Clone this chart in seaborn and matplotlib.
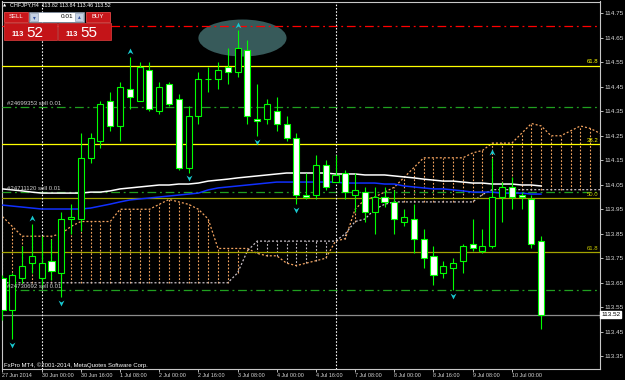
import numpy as np
import pandas as pd
import matplotlib
matplotlib.use("Agg")
import matplotlib.pyplot as plt
from matplotlib import font_manager as fm
from matplotlib.patches import Rectangle, Ellipse
from matplotlib.path import Path
import matplotlib.transforms as mtransforms
import seaborn as sns

# ------------------------------------------------------------------ data
symbol = "CHFJPY,H4"
opens = [113.67, 113.54, 113.67, 113.73, 113.67, 113.74, 113.69, 113.91, 113.91, 114.16,
         114.23, 114.39, 114.29, 114.44, 114.39, 114.52, 114.35, 114.46, 114.40, 114.12,
         114.33, 114.48, 114.48, 114.53, 114.51, 114.60, 114.32, 114.32, 114.35, 114.30,
         114.24, 114.01, 114.01, 114.13, 114.06, 114.10, 114.01, 114.02, 113.94, 114.00,
         113.98, 113.90, 113.91, 113.83, 113.76, 113.69, 113.71, 113.74, 113.81, 113.78,
         113.80, 114.00, 114.04, 114.01, 113.99, 113.82]
highs = [113.68, 113.69, 113.80, 113.89, 113.84, 113.83, 113.94, 113.97, 114.26, 114.26,
         114.39, 114.43, 114.47, 114.57, 114.55, 114.55, 114.47, 114.47, 114.42, 114.37,
         114.51, 114.53, 114.55, 114.61, 114.68, 114.64, 114.46, 114.40, 114.41, 114.33,
         114.26, 114.10, 114.17, 114.15, 114.17, 114.11, 114.10, 114.04, 114.04, 114.04,
         114.03, 113.95, 113.97, 113.87, 113.80, 113.74, 113.75, 113.81, 113.91, 113.87,
         114.16, 114.06, 114.08, 114.02, 114.01, 113.84]
lows = [113.50, 113.42, 113.65, 113.69, 113.63, 113.66, 113.59, 113.85, 113.86, 114.14,
        114.20, 114.27, 114.23, 114.36, 114.39, 114.35, 114.34, 114.37, 114.11, 114.10,
        114.30, 114.43, 114.44, 114.46, 114.49, 114.30, 114.25, 114.30, 114.27, 114.23,
        113.97, 113.99, 113.99, 114.03, 114.06, 113.99, 113.94, 113.90, 113.85, 113.96,
        113.85, 113.88, 113.77, 113.71, 113.64, 113.67, 113.62, 113.69, 113.78, 113.77,
        113.79, 113.90, 113.95, 113.95, 113.79, 113.46]
closes = [113.54, 113.68, 113.72, 113.76, 113.73, 113.70, 113.91, 113.92, 114.16, 114.24,
          114.38, 114.29, 114.45, 114.41, 114.53, 114.36, 114.45, 114.38, 114.12, 114.33,
          114.48, 114.48, 114.52, 114.51, 114.61, 114.33, 114.31, 114.38, 114.30, 114.24,
          114.01, 114.00, 114.13, 114.04, 114.09, 114.02, 114.03, 113.94, 114.00, 113.98,
          113.91, 113.92, 113.83, 113.75, 113.68, 113.72, 113.73, 113.80, 113.79, 113.80,
          114.00, 114.04, 114.00, 114.00, 113.81, 113.52]
ask_price = 113.55

# Ichimoku cloud (shifted forward, so longer than the price series)
senkou_a = [113.92, 113.88, 113.84, 113.84, 113.84, 113.84, 113.85, 113.88, 113.90, 113.90,
            113.90, 113.90, 113.95, 113.95, 113.95, 113.95, 113.97, 113.99, 113.98, 113.97,
            113.95, 113.91, 113.79, 113.79, 113.79, 113.79, 113.77, 113.76, 113.76, 113.73,
            113.72, 113.73, 113.74, 113.75, 113.82, 113.83, 113.95, 113.99, 114.00, 114.02,
            114.04, 114.08, 114.12, 114.16, 114.16, 114.16, 114.16, 114.16, 114.18, 114.19,
            114.22, 114.22, 114.22, 114.26, 114.30, 114.29, 114.25, 114.25, 114.27, 114.29,
            114.28, 114.26]
senkou_b = [113.65, 113.65, 113.65, 113.65, 113.65, 113.65, 113.65, 113.65, 113.65, 113.65,
            113.65, 113.65, 113.65, 113.65, 113.65, 113.65, 113.65, 113.65, 113.65, 113.65,
            113.65, 113.65, 113.65, 113.65, 113.69, 113.78, 113.82, 113.82, 113.82, 113.82,
            113.82, 113.82, 113.82, 113.82, 113.82, 113.85, 113.90, 113.91, 113.95, 113.97,
            113.98, 113.98, 113.98, 113.98, 113.98, 113.98, 113.98, 113.98, 113.98, 114.01,
            114.03, 114.03, 114.03, 114.03, 114.03, 114.03, 114.03, 114.03, 114.03, 114.03,
            114.03, 114.03]

# moving averages
ma_white = [114.033, 114.029, 114.025, 114.020, 114.016, 114.016, 114.016, 114.016, 114.016, 114.020,
            114.020, 114.025, 114.033, 114.037, 114.041, 114.045, 114.049, 114.049, 114.053, 114.053,
            114.057, 114.065, 114.069, 114.073, 114.078, 114.082, 114.086, 114.090, 114.094, 114.098,
            114.098, 114.098, 114.098, 114.098, 114.094, 114.094, 114.094, 114.090, 114.090, 114.090,
            114.086, 114.082, 114.078, 114.073, 114.069, 114.065, 114.065, 114.061, 114.057, 114.057,
            114.053, 114.053, 114.053, 114.049, 114.049, 114.045]
ma_blue = [113.967, 113.963, 113.959, 113.955, 113.951, 113.951, 113.951, 113.951, 113.951, 113.955,
           113.963, 113.971, 113.980, 113.988, 113.992, 113.996, 114.000, 114.004, 114.008, 114.012,
           114.016, 114.029, 114.037, 114.041, 114.045, 114.049, 114.053, 114.057, 114.061, 114.061,
           114.061, 114.061, 114.061, 114.061, 114.061, 114.057, 114.057, 114.057, 114.057, 114.053,
           114.053, 114.045, 114.041, 114.037, 114.033, 114.033, 114.029, 114.025, 114.020, 114.020,
           114.020, 114.016, 114.016, 114.016, 114.012, 114.012]

# horizontal objects
alert_level = 114.70
fib_levels = [114.535, 114.216, 113.996, 113.775]
fib_labels = ["61.8", "38.2", "50.0", "61.8"]
fib_colors = ["#ffff00", "#ffff00", "#a4a400", "#a4a400"]
order_levels = [114.367, 114.020, 113.620]
order_labels = ["#24699353 sell 0.01", "#24711120 sell 0.01", "#24730692 sell 0.01"]

# fractals & separators (bar indices)
up_fractals = [3, 13, 24, 50]
down_fractals = [1, 6, 19, 26, 30, 46]
week_separators = [4, 34]

# axis labels
price_ticks = [114.75, 114.65, 114.55, 114.45, 114.35, 114.25, 114.15, 114.05,
               113.95, 113.85, 113.75, 113.65, 113.55, 113.45, 113.35]
time_tick_bars = [0, 4, 8, 12, 16, 20, 24, 28, 32, 36, 40, 44, 48, 52]
time_tick_labels = ["27 Jun 2014", "30 Jun 00:00", "30 Jun 16:00", "1 Jul 08:00",
                    "2 Jul 00:00", "2 Jul 16:00", "3 Jul 08:00", "4 Jul 00:00",
                    "4 Jul 16:00", "7 Jul 08:00", "8 Jul 00:00", "8 Jul 16:00",
                    "9 Jul 08:00", "10 Jul 00:00"]

# ellipse object (bar index, price, width in bars, height in price)
ellipse_obj = (24.5, 114.649, 9.0, 0.151)

# ------------------------------------------------------------------ style
sns.set_theme(style="dark", rc={"axes.facecolor": "black", "figure.facecolor": "black",
                                "axes.edgecolor": "#c8c8c8", "axes.grid": False,
                                "xtick.color": "#d8d8d8", "ytick.color": "#d8d8d8",
                                "text.color": "white"})
avail = {f.name for f in fm.fontManager.ttflist}
FONT = "DejaVu Sans"
for cand in ["Liberation Sans Narrow", "Liberation Sans", "Roboto", "DejaVu Sans"]:
    if cand in avail:
        FONT = cand
        break
plt.rcParams["font.family"] = [FONT, "DejaVu Sans"]

W, H = 625, 380
fig = plt.figure(figsize=(W / 100, H / 100), dpi=100)
fig.patch.set_facecolor("black")
ax = fig.add_axes([2 / W, 1 - 369 / H, 598 / W, 367.5 / H])
ax.set_facecolor("black")

LIME = "#00ff00"
n = len(opens)
bars = np.arange(n)
o = np.array(opens); c = np.array(closes); h = np.array(highs); l = np.array(lows)

# ---- ellipse (background object)
ax.add_patch(Ellipse((ellipse_obj[0], ellipse_obj[1]), ellipse_obj[2], ellipse_obj[3],
                     facecolor="#375a5a", edgecolor="none", zorder=1))

# ---- Ichimoku cloud
cx = np.arange(len(senkou_a))
sa = np.array(senkou_a); sb = np.array(senkou_b)
up = sa >= sb
ax.vlines(cx[up], sb[up], sa[up], colors="#f4a460", linestyles=(0, (1.6, 1.6)), lw=0.8, zorder=2)
ax.vlines(cx[~up], sa[~up], sb[~up], colors="#c8c0c8", linestyles=(0, (1.6, 1.6)), lw=0.8, zorder=2)
cloud = pd.DataFrame({"bar": cx, "a": sa, "b": sb})
sns.lineplot(data=cloud, x="bar", y="a", ax=ax, color="#f4a460", lw=0.9, linestyle=(0, (1.6, 1.6)), zorder=2)
sns.lineplot(data=cloud, x="bar", y="b", ax=ax, color="#c8c0c8", lw=0.9, linestyle=(0, (1.6, 1.6)), zorder=2)

# ---- horizontal objects
blend = mtransforms.blended_transform_factory(ax.transAxes, ax.transData)
for lev, col in zip(fib_levels, fib_colors):
    ax.axhline(lev, color=col, lw=0.9, zorder=3)
for lev, lab, col in zip(fib_levels, fib_labels, fib_colors):
    ax.text(0.997, lev + 0.006, lab, transform=blend,
            ha="right", va="bottom", fontsize=4.3, color="#ffff00" if col == "#ffff00" else "#c8c800", zorder=9)
for lev in order_levels:
    ax.axhline(lev, color="#20a020", lw=0.9, linestyle=(0, (7, 3, 1.5, 3)), zorder=3)
for lev, lab in zip(order_levels, order_labels):
    ax.text(0.0085, lev + 0.006, lab, transform=blend,
            ha="left", va="bottom", fontsize=4.3, color="#d0d0d0", zorder=9)
ax.axhline(alert_level, color="#ff0000", lw=0.9, linestyle=(0, (7, 3, 1.5, 3)), zorder=3)
ax.axhline(closes[-1], color="#8c8c8c", lw=0.9, zorder=3)

# ---- week separators
for b in week_separators:
    ax.axvline(b, color="white", lw=0.8, linestyle=(0, (1.4, 1.6)), zorder=3)

# ---- moving averages
mas = pd.DataFrame({"bar": bars, "white": ma_white, "blue": ma_blue})
sns.lineplot(data=mas, x="bar", y="white", ax=ax, color="white", lw=1.1, zorder=4)
sns.lineplot(data=mas, x="bar", y="blue", ax=ax, color="#1030ff", lw=1.1, zorder=4)

# ---- candles
bull = c >= o
lo_b = np.minimum(o, c); hi_b = np.maximum(o, c)
hgt = np.maximum(hi_b - lo_b, 0.003)
ax.vlines(bars, l, h, colors=LIME, lw=0.8, zorder=5)
ax.bar(bars, hgt, bottom=lo_b, width=0.62, color=np.where(bull, "black", "white"),
       edgecolor=LIME, linewidth=0.8, zorder=6)

# ---- fractal arrows
up_marker = Path([(0, 1), (1, -1), (0, -0.35), (-1, -1), (0, 1)],
                 [Path.MOVETO, Path.LINETO, Path.LINETO, Path.LINETO, Path.CLOSEPOLY])
dn_marker = Path([(0, -1), (1, 1), (0, 0.35), (-1, 1), (0, -1)],
                 [Path.MOVETO, Path.LINETO, Path.LINETO, Path.LINETO, Path.CLOSEPOLY])
ax.scatter(up_fractals, [highs[i] + 0.024 for i in up_fractals], marker=up_marker, s=18,
           color="#18c8d0", linewidths=0, zorder=7)
ax.scatter(down_fractals, [lows[i] - 0.024 for i in down_fractals], marker=dn_marker, s=18,
           color="#18c8d0", linewidths=0, zorder=7)

# ---- axes
ax.set_xlim(-0.05, 61.0)
ax.set_ylim(113.298, 114.798)
ax.set_xlabel(""); ax.set_ylabel("")
ax.yaxis.tick_right()
ax.set_yticks(price_ticks)
ax.set_yticklabels([f"{p:.2f}" for p in price_ticks], fontsize=4.6, color="#d8d8d8")
ax.set_xticks(time_tick_bars)
ax.set_xticklabels(time_tick_labels, fontsize=3.9, color="#d8d8d8", ha="left")
ax.tick_params(axis="y", which="both", right=True, left=False, length=2.2, width=0.6, pad=0.8, colors="#d8d8d8")
ax.tick_params(axis="x", which="both", bottom=True, length=2.2, width=0.6, pad=0.8, colors="#d8d8d8")
for s in ax.spines.values():
    s.set_color("#c8c8c8"); s.set_linewidth(0.8)

# price label box on the right axis
ax.text(1.002, closes[-1], f"{closes[-1]:.2f}", transform=blend,
        ha="left", va="center", fontsize=4.6, color="black", zorder=12, clip_on=False,
        bbox=dict(boxstyle="square,pad=0.15", fc="white", ec="white"))

# ------------------------------------------------------------------ overlay (panel, header, copyright)
ov = fig.add_axes([0, 0, 1, 1], zorder=10)
ov.set_xlim(0, W); ov.set_ylim(H, 0); ov.axis("off"); ov.patch.set_alpha(0)

ov.text(2.5, 5.2, "\u25b2", fontsize=3, color="white", va="center", ha="left", family="DejaVu Sans")
ov.text(10, 5.2, f"{symbol}  {opens[-1]:.2f} {highs[-1]:.2f} {lows[-1]:.2f} {closes[-1]:.2f}",
        fontsize=3.9, color="white", va="center", ha="left")

RED = "#c8171b"; RED_E = "#ff5050"
ov.add_patch(Rectangle((4, 12), 24, 10, fc=RED, ec=RED_E, lw=0.5))
ov.text(16, 17, "SELL", fontsize=4.3, color="white", ha="center", va="center")
ov.add_patch(Rectangle((29, 12), 55, 10, fc="white", ec="#7a8aa0", lw=0.5))
ov.add_patch(Rectangle((30, 13), 8, 8, fc="#c6d2e4", ec="#8090a8", lw=0.4))
ov.add_patch(Rectangle((75, 13), 8, 8, fc="#c6d2e4", ec="#8090a8", lw=0.4))
ov.text(34, 17.3, "\u25be", fontsize=4, color="#3050a0", ha="center", va="center", family="DejaVu Sans")
ov.text(79, 16.7, "\u25b4", fontsize=4, color="#3050a0", ha="center", va="center", family="DejaVu Sans")
ov.text(73, 17, "0.01", fontsize=4.6, color="black", ha="right", va="center")
ov.add_patch(Rectangle((86, 12), 24, 10, fc=RED, ec=RED_E, lw=0.5))
ov.text(98, 17, "BUY", fontsize=4.3, color="white", ha="center", va="center")
ov.add_patch(Rectangle((4, 22.5), 53, 17.5, fc="#c41418", ec="#e04040", lw=0.5))
ov.add_patch(Rectangle((58, 22.5), 53, 17.5, fc="#c41418", ec="#e04040", lw=0.5))
bid_str = f"{closes[-1]:.2f}"; ask_str = f"{ask_price:.2f}"
ov.text(12, 36.5, bid_str[:3], fontsize=5.5, color="white", ha="left", va="baseline", weight="bold")
ov.text(26.5, 37, bid_str[4:], fontsize=11, color="white", ha="left", va="baseline")
ov.text(66, 36.5, ask_str[:3], fontsize=5.5, color="white", ha="left", va="baseline", weight="bold")
ov.text(80.5, 37, ask_str[4:], fontsize=11, color="white", ha="left", va="baseline")

ov.text(4, 365, "FxPro MT4, \u00a92001-2014, MetaQuotes Software Corp.", fontsize=4.3,
        color="white", ha="left", va="center")

fig.savefig("out.png", dpi=100, facecolor="black")
